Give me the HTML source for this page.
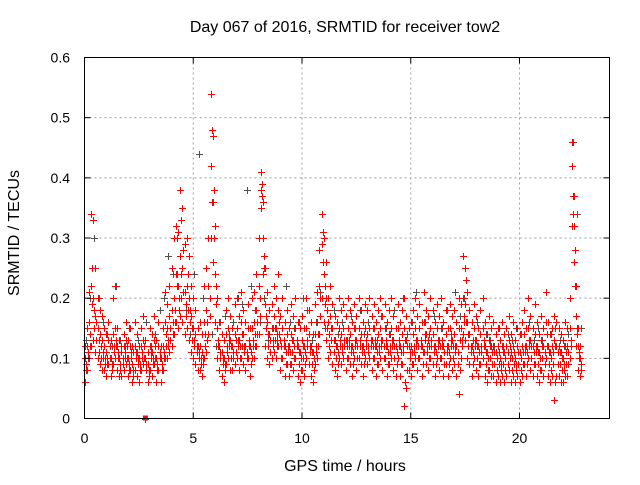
<!DOCTYPE html>
<html><head><meta charset="utf-8"><style>
body{margin:0;background:#fff}
svg text{font-family:"Liberation Sans","DejaVu Sans",sans-serif;font-size:14px;fill:#000}
svg text.big{font-size:16px}
</style></head><body>
<svg id="chart" width="640" height="480" xmlns="http://www.w3.org/2000/svg">
<rect width="640" height="480" fill="#fff"/>
<g id="grid"></g>
<g id="marks"></g>
<rect x="84.5" y="57.5" width="525" height="361" fill="none" stroke="#000" stroke-width="1"/>
<g id="ticks"></g>
<text class="big" x="345" y="32" text-anchor="middle">Day 067 of 2016, SRMTID for receiver tow2</text>
<text class="big" x="345" y="471" text-anchor="middle">GPS time / hours</text>
<text class="big" transform="translate(19,233) rotate(-90)" text-anchor="middle">SRMTID / TECUs</text>
</svg>
<script>
const xTicks=[0,5,10,15,20];
const yTicks=[0,0.1,0.2,0.3,0.4,0.5,0.6];
const yTickLabels=["0","0.1","0.2","0.3","0.4","0.5","0.6"];
const redHigh=[.12,.15,.21,.34,.33,.25,.2,.18,.17,.15,.14,.16,.13,.2,.22,.15,.13,.12,.14,.16,.13,.15,.12,.16,.14,.12,.15,.17,.13,.11,.15,.14,.17,.13,.16,.12,.15,.21,.19,.22,.25,.3,.32,.31,.38,.35,.29,.3,.27,.22,.2,.18,.15,.16,.14,.22,.25,.3,.54,.47,.32,.2,.16,.14,.13,.18,.2,.17,.15,.19,.2,.17,.21,.18,.16,.19,.15,.2,.21,.24,.3,.41,.36,.25,.21,.18,.19,.22,.2,.24,.17,.2,.16,.18,.15,.19,.17,.2,.16,.15,.17,.15,.2,.18,.16,.14,.19,.21,.28,.34,.3,.26,.2,.22,.19,.17,.16,.2,.18,.19,.17,.2,.18,.16,.19,.17,.2,.18,.16,.19,.18,.2,.17,.19,.16,.18,.2,.17,.19,.16,.18,.2,.17,.15,.19,.16,.18,.2,.17,.15,.16,.18,.2,.17,.19,.16,.21,.18,.17,.2,.18,.16,.19,.17,.2,.16,.18,.15,.19,.17,.18,.16,.2,.19,.27,.25,.21,.18,.16,.19,.17,.15,.18,.2,.16,.14,.17,.15,.16,.14,.15,.13,.16,.14,.15,.17,.14,.16,.13,.15,.14,.16,.18,.15,.2,.17,.15,.19,.16,.14,.17,.15,.21,.16,.14,.15,.17,.16,.15,.14,.13,.16,.15,.2,.46,.37,.22,.15,.12];
const redMid=[.1,.12,.16,.22,.2,.17,.15,.14,.13,.12,.11,.13,.1,.14,.15,.12,.1,.11,.12,.13,.1,.12,.09,.12,.11,.1,.12,.13,.1,.09,.12,.11,.13,.1,.12,.1,.12,.16,.15,.17,.18,.2,.24,.22,.27,.25,.21,.22,.2,.17,.15,.14,.12,.12,.11,.16,.18,.22,.42,.36,.24,.15,.12,.11,.1,.14,.15,.13,.12,.14,.15,.13,.16,.14,.12,.15,.12,.15,.16,.18,.22,.38,.3,.19,.16,.14,.15,.17,.15,.18,.13,.15,.12,.14,.12,.14,.13,.15,.12,.11,.13,.12,.15,.14,.12,.11,.14,.16,.22,.29,.24,.2,.16,.17,.15,.13,.12,.15,.14,.15,.13,.15,.14,.12,.15,.13,.15,.14,.12,.15,.14,.15,.13,.15,.12,.14,.15,.13,.15,.12,.14,.15,.13,.12,.15,.12,.14,.15,.13,.12,.12,.14,.15,.13,.15,.12,.16,.14,.13,.15,.14,.12,.15,.13,.15,.12,.14,.12,.15,.13,.14,.12,.15,.15,.2,.19,.16,.14,.12,.15,.13,.12,.14,.15,.12,.11,.13,.12,.12,.11,.12,.1,.12,.11,.12,.13,.11,.12,.1,.12,.11,.12,.14,.12,.15,.13,.12,.14,.12,.11,.13,.12,.16,.12,.11,.12,.13,.12,.12,.11,.1,.12,.12,.15,.42,.32,.17,.12,.1];
const redLow=[.06,.08,.1,.12,.13,.11,.1,.09,.08,.08,.07,.09,.07,.09,.1,.08,.07,.07,.08,.09,.07,.08,.06,.08,.07,.06,.08,.09,0,.06,.08,.07,.09,.06,.08,.06,.08,.1,.1,.11,.12,.14,.16,.15,.17,.16,.14,.15,.13,.11,.1,.09,.08,.08,.07,.1,.11,.14,.3,.26,.16,.1,.08,.07,.06,.09,.1,.08,.08,.09,.1,.08,.1,.09,.08,.1,.07,.1,.1,.12,.14,.35,.24,.12,.1,.09,.1,.11,.1,.12,.08,.1,.07,.09,.07,.09,.08,.1,.07,.06,.08,.07,.1,.09,.07,.06,.09,.1,.14,.2,.16,.13,.1,.11,.09,.08,.07,.1,.09,.1,.08,.1,.09,.07,.1,.08,.1,.09,.07,.1,.09,.1,.08,.1,.07,.09,.1,.08,.1,.07,.09,.1,.08,.07,.1,.07,.09,.02,.05,.08,.07,.09,.1,.08,.1,.07,.11,.09,.08,.1,.09,.07,.1,.08,.1,.07,.09,.07,.1,.08,.09,.07,.04,.1,.14,.13,.1,.09,.07,.1,.08,.07,.09,.1,.07,.06,.08,.07,.07,.06,.07,.06,.07,.06,.07,.08,.06,.07,.06,.07,.06,.07,.09,.07,.1,.08,.07,.09,.07,.06,.08,.07,.1,.07,.06,.07,.03,.07,.07,.06,.06,.07,.07,.1,.32,.26,.12,.08,.07];
const redQ1=[.09,.11,.14,.25,.18,.16,.13,.12,.11,.1,.1,.12,.09,.12,.13,.11,.09,.1,.11,.12,.09,.11,.08,.11,.1,.09,.11,.12,.09,.08,.11,.1,.12,.09,.11,.09,.11,.14,.13,.15,.16,.18,.3,.2,.33,.28,.19,.24,.18,.15,.13,.12,.11,.1,.1,.14,.16,.2,.48,.38,.22,.13,.11,.1,.09,.12,.13,.12,.11,.13,.13,.12,.14,.12,.11,.13,.11,.13,.14,.16,.2,.39,.27,.17,.14,.13,.13,.15,.13,.16,.12,.13,.11,.12,.11,.13,.12,.13,.11,.1,.12,.11,.13,.12,.11,.1,.12,.14,.2,.31,.22,.18,.14,.15,.13,.12,.11,.13,.12,.13,.12,.13,.12,.11,.13,.12,.13,.12,.11,.13,.12,.13,.12,.13,.11,.12,.13,.12,.13,.11,.12,.13,.12,.11,.13,.11,.12,.13,.12,.11,.11,.12,.13,.12,.13,.11,.14,.12,.12,.13,.12,.11,.13,.12,.13,.11,.12,.11,.13,.12,.12,.11,.13,.13,.17,.23,.14,.12,.11,.13,.12,.11,.12,.13,.11,.1,.12,.11,.11,.1,.11,.09,.11,.1,.11,.12,.1,.11,.09,.11,.1,.11,.12,.11,.13,.12,.11,.12,.11,.1,.12,.11,.14,.11,.1,.11,.12,.11,.11,.1,.09,.11,.11,.13,.37,.22,.15,.11,.09];
const redQ2=[.08,.1,.12,.19,.15,.13,.11,.1,.1,.09,.09,.1,.08,.11,.12,.1,.08,.09,.1,.1,.08,.1,.07,.1,.09,.08,.1,.1,.08,.07,.1,.09,.1,.08,.1,.08,.1,.12,.12,.13,.14,.16,.22,.18,.24,.21,.17,.18,.16,.13,.12,.11,.1,.09,.09,.12,.13,.17,.36,.3,.19,.12,.1,.09,.08,.11,.12,.1,.1,.11,.12,.1,.12,.11,.1,.12,.09,.12,.12,.14,.17,.37,.25,.15,.12,.11,.12,.13,.12,.14,.1,.12,.09,.11,.09,.11,.1,.12,.09,.08,.1,.09,.12,.11,.09,.08,.11,.12,.17,.26,.19,.15,.12,.13,.11,.1,.09,.12,.11,.12,.1,.12,.11,.09,.12,.1,.12,.11,.09,.12,.11,.12,.1,.12,.09,.11,.12,.1,.12,.09,.11,.12,.1,.09,.12,.09,.11,.06,.08,.1,.09,.11,.12,.1,.12,.09,.13,.11,.1,.12,.11,.09,.12,.1,.12,.09,.11,.09,.12,.1,.11,.09,.08,.12,.16,.16,.12,.11,.09,.12,.1,.09,.11,.12,.09,.08,.1,.09,.09,.08,.09,.08,.09,.08,.09,.1,.08,.09,.08,.09,.08,.09,.11,.09,.12,.1,.09,.11,.09,.08,.1,.09,.12,.09,.08,.09,.06,.09,.09,.08,.08,.09,.09,.12,.34,.28,.14,.1,.08];
const grayVals=[.13,.2,.3,.2,.16,.14,.12,.22,.13,.12,.15,.11,.13,.1,.16,.12,.14,.18,.2,.27,.24,.24,.2,.18,.14,.24,.44,.2,.13,.14,.12,.16,.17,.14,.16,.2,.19,.38,.22,.18,.16,.2,.13,.15,.14,.12,.22,.16,.15,.16,.2,.18,.13,.16,.21,.15,.14,.18,.14,.16,.13,.17,.15,.18,.14,.16,.15,.13,.17,.15,.14,.18,.12,.2,.14,.16,.21,.13,.16,.14,.17,.13,.15,.18,.14,.21,.17,.2,.14,.13,.16,.12,.14,.13,.12,.15,.12,.14,.13,.15,.14,.12,.16,.13,.15,.13,.12,.14,.15,.13,.12,.14,.46,.34,.15];
const redStep=0.1, grayStep=0.2;
const X=h=>84.5+h*21.75, Y=v=>418.5-v*601.7;
const ns="http://www.w3.org/2000/svg";
const grid=document.getElementById('grid'),ticks=document.getElementById('ticks'),marks=document.getElementById('marks');
function mk(tag,attrs,parent){const e=document.createElementNS(ns,tag);for(const k in attrs)e.setAttribute(k,attrs[k]);parent.appendChild(e);return e;}
yTicks.forEach((v,i)=>{
  if(i>0&&i<yTicks.length-1){const g=mk('line',{x1:84.5,x2:609.5,y1:Y(v),y2:Y(v),stroke:'#a0a0a0','stroke-dasharray':'2,3'},grid);
  
  }
  const t=mk('text',{x:70,y:Y(v)+5,'text-anchor':'end'},ticks);t.textContent=yTickLabels[i];
  
  
  mk('line',{x1:84.5,x2:90.5,y1:Y(v),y2:Y(v),stroke:'#000'},ticks);
  mk('line',{x1:603.5,x2:609.5,y1:Y(v),y2:Y(v),stroke:'#000'},ticks);
});
xTicks.forEach(h=>{
  if(h>0){const g=mk('line',{x1:X(h),x2:X(h),y1:57.5,y2:418.5,stroke:'#a0a0a0','stroke-dasharray':'2,3'},grid);
  
  }
  const t=mk('text',{x:X(h),y:443,'text-anchor':'middle'},ticks);t.textContent=h;
  
  
  mk('line',{x1:X(h),x2:X(h),y1:412.5,y2:418.5,stroke:'#000'},ticks);
  mk('line',{x1:X(h),x2:X(h),y1:57.5,y2:63.5,stroke:'#000'},ticks);
});
function plus(h,v,col){
  const x=Math.round(X(h))+0.5,y=Math.round(Y(v))+0.5;
  const p=mk('path',{d:`M${x-3.5} ${y}H${x+3.5}M${x} ${y-3.5}V${y+3.5}`,stroke:col,'stroke-width':1,fill:'none'},marks);
  
  
}
grayVals.forEach((v,i)=>plus(i*grayStep+0.05,v,'#505050'));
[redHigh,redMid,redLow].forEach(arr=>arr.forEach((v,i)=>plus(i*redStep,v,'#ff0000')));
[redQ1,redQ2].forEach(arr=>arr.forEach((v,i)=>plus(i*redStep+0.05,v,'#ff0000')));
const sq=mk('rect',{x:X(2.8)-2.5,y:Y(0)-3,width:5,height:5,fill:'#ff0000'},marks);


</script>
</body></html>
